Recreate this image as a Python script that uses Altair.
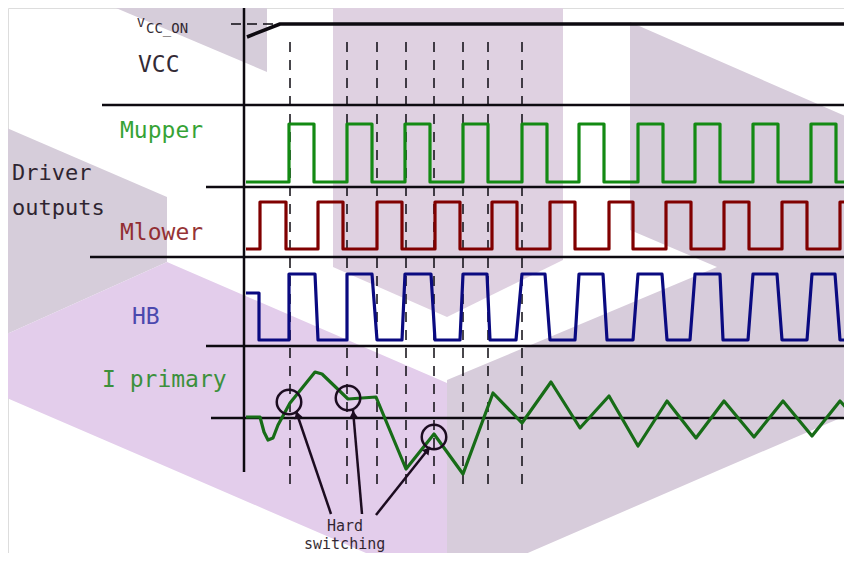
import math
import altair as alt
import pandas as pd

# ---------------- data (picture pixel units) ----------------
# background watermark faces: (x, y_top, y_bottom), colour
bg_faces = {
    "t1": ("#d6cdda", [(97, 0, 0), (267, 0, 72)]),
    "left": ("#d6cdda", [(0, 125, 337), (167, 197, 262)]),
    "purple": ("#e3cdeb", [(0, 337, 395), (167, 262, 467), (447, 383, 588)]),
    "pink": ("#dfd1e1", [(333, 0, 267), (447, 0, 317), (563, 0, 260)]),
    "right_a": ("#d7ccdb", [(630, 22, 230), (717, 60, 267), (852, 119, 325)]),
    "right_b": ("#d7ccdb", [(447, 380, 588), (717, 267, 471), (852, 211, 413)]),
}

sep_y = [105, 187, 257, 346, 418]
sep_x_start = [102, 206, 90, 206, 211]
sep_x_end = 852

dash_x = [290, 347, 377, 406, 434, 463, 488, 522]

vcc_x = [247, 280, 852]
vcc_y = [37, 24, 24]

mupper_low, mupper_high = 182, 124
mupper_pulses = [(289, 314), (347, 372), (405, 430), (463, 488), (522, 547),
                 (579, 604), (638, 663), (695, 720), (753, 778), (811, 836)]

mlower_low, mlower_high = 249, 202
mlower_pulses = [(260, 286), (318, 343), (377, 402), (435, 460), (492, 517),
                 (550, 575), (609, 633), (666, 691), (724, 749), (782, 807), (840, 865)]

hb_low, hb_high = 340, 274
hb_start = [(246, 293), (259, 293), (259, 340)]
hb_pulses = [(289, 289, 315, 318), (347, 347, 372, 377), (402, 405, 431, 435),
             (460, 463, 487, 490), (516, 522, 545, 550), (575, 579, 603, 607),
             (633, 638, 662, 667), (690, 695, 720, 723), (748, 753, 777, 782),
             (807, 812, 835, 840)]

iprim_x = [246, 260, 264, 268, 273, 278, 290, 315, 322, 348, 376, 406, 434, 463,
           493, 522, 551, 580, 609, 638, 667, 696, 724, 754, 783, 812, 840, 852]
iprim_y = [417, 417, 432, 440, 438, 425, 403, 372, 374, 399, 397, 469, 434, 474,
           393, 423, 382, 428, 396, 446, 401, 438, 401, 437, 401, 436, 401, 414]

circ_x = [289, 348, 434]
circ_y = [402, 398, 437]

arrow_from = [(331, 514), (362, 514), (376, 515)]
arrow_to = [(296, 411), (353, 410), (430, 447)]

labels = [
    # text, x, y(baseline), colour, font size
    ("V", 137, 27, "#1c1220", 13),
    ("CC_ON", 146, 33, "#1c1220", 14),
    ("VCC", 138, 72, "#1c1220", 23),
    ("Mupper", 120, 138, "#1f9a1f", 23),
    ("Driver", 12, 180, "#1c1220", 22),
    ("outputs", 12, 215, "#1c1220", 22),
    ("Mlower", 120, 240, "#8b1c22", 23),
    ("HB", 132, 324, "#3b3aa8", 23),
    ("I primary", 102, 387, "#2a8a2a", 23),
    ("Hard", 327, 531, "#1c1220", 15),
    ("switching", 304, 549, "#1c1220", 15),
]

# ---------------- scales: picture pixels through the chart's own scales ----------------
W, H = 836, 545
X0, Y0 = 8, 8
xs = alt.Scale(domain=[X0, X0 + W], nice=False, zero=False)
ys = alt.Scale(domain=[Y0, Y0 + H], reverse=True, nice=False, zero=False)


def X(f="x"):
    return alt.X(f"{f}:Q", scale=xs, axis=None)


def Y(f="y"):
    return alt.Y(f"{f}:Q", scale=ys, axis=None)


# background faces
bg_rows = []
for name, (col, pts) in bg_faces.items():
    for (x, yt, yb) in pts:
        bg_rows.append({"face": name, "col": col, "x": x, "yt": yt, "yb": yb})
bg_df = pd.DataFrame(bg_rows)
bg = alt.Chart(bg_df).mark_area(clip=True, opacity=1, interpolate="linear").encode(
    x=X(), y=Y("yt"), y2="yb:Q",
    color=alt.Color("col:N", scale=None), detail="face:N")

# separators
sep_df = pd.DataFrame({"x": sep_x_start, "x2": [sep_x_end] * len(sep_y), "y": sep_y})
seps = alt.Chart(sep_df).mark_rule(color="#0d0a10", strokeWidth=2.5, clip=True).encode(
    x=X(), x2="x2:Q", y=Y())

# main vertical axis
axis_df = pd.DataFrame({"x": [244], "y": [5], "y2": [472]})
vaxis = alt.Chart(axis_df).mark_rule(color="#0d0a10", strokeWidth=2.5, clip=True).encode(
    x=X(), y=Y(), y2="y2:Q")

# vcc_on dashed marker
vdash_df = pd.DataFrame({"x": [231], "x2": [280], "y": [24]})
vdash = alt.Chart(vdash_df).mark_rule(color="#0d0a10", strokeWidth=1.5,
                                       strokeDash=[10, 6], clip=True).encode(
    x=X(), x2="x2:Q", y=Y())

# vertical dashed time markers
dv_df = pd.DataFrame({"x": dash_x, "y": [42] * len(dash_x), "y2": [484] * len(dash_x)})
dvert = alt.Chart(dv_df).mark_rule(color="#0d0a10", strokeWidth=1.5,
                                    strokeDash=[10, 8], clip=True).encode(
    x=X(), y=Y(), y2="y2:Q")


def line(df, color, width):
    return alt.Chart(df).mark_line(color=color, strokeWidth=width, clip=True,
                                   strokeJoin="round", strokeCap="butt").encode(
        x=X(), y=Y(), order="i:Q")


def pts_df(pts):
    return pd.DataFrame({"i": list(range(len(pts))),
                         "x": [p[0] for p in pts], "y": [p[1] for p in pts]})


vcc = line(pts_df(list(zip(vcc_x, vcc_y))), "#0d0a10", 3.5)

mu = [(246, mupper_low)]
for a, b in mupper_pulses:
    mu += [(a, mupper_low), (a, mupper_high), (b, mupper_high), (b, mupper_low)]
mu.append((852, mupper_low))
mupper = line(pts_df(mu), "#138a13", 3.2)

ml = [(246, mlower_low)]
for a, b in mlower_pulses:
    ml += [(a, mlower_low), (a, mlower_high), (b, mlower_high), (b, mlower_low)]
mlower = line(pts_df(ml), "#800000", 3.2)

hb = list(hb_start)
for a, b, c, d in hb_pulses:
    hb += [(a, hb_low), (b, hb_high), (c, hb_high), (d, hb_low)]
hb.append((852, hb_low))
hbl = line(pts_df(hb), "#0a0a80", 3.2)

ip = line(pts_df(list(zip(iprim_x, iprim_y))), "#176c17", 3.2)

# circles
c_df = pd.DataFrame({"x": circ_x, "y": circ_y})
circles = alt.Chart(c_df).mark_point(shape="circle", size=600, filled=False,
                                     color="#1c0c20", strokeWidth=2.5, opacity=1,
                                     clip=True).encode(x=X(), y=Y())

# arrows
ar_rows, head_rows = [], []
for k, ((x1, y1), (x2, y2)) in enumerate(zip(arrow_from, arrow_to)):
    ar_rows.append({"i": 0, "a": k, "x": x1, "y": y1})
    ar_rows.append({"i": 1, "a": k, "x": x2, "y": y2})
    dx, dy = x2 - x1, y2 - y1
    L = math.hypot(dx, dy)
    ang = math.degrees(math.atan2(dx, -dy)) % 360
    head_rows.append({"x": x2 - 4 * dx / L, "y": y2 - 4 * dy / L, "ang": ang})
ar_df = pd.DataFrame(ar_rows)
arrows = alt.Chart(ar_df).mark_line(color="#1c0c20", strokeWidth=2.5, clip=True).encode(
    x=X(), y=Y(), detail="a:N", order="i:Q")
heads = alt.Chart(pd.DataFrame(head_rows)).mark_point(
    shape="triangle-up", size=70, filled=True, color="#1c0c20", opacity=1, clip=True).encode(
    x=X(), y=Y(), angle=alt.Angle("ang:Q", scale=None))

# labels
lab_df = pd.DataFrame(labels, columns=["text", "x", "y", "col", "fs"])
texts = alt.Chart(lab_df).mark_text(align="left", baseline="alphabetic",
                                    font="DejaVu Sans Mono", opacity=0.9).encode(
    x=X(), y=Y(), text="text:N",
    color=alt.Color("col:N", scale=None),
    size=alt.Size("fs:Q", scale=None))

chart = alt.layer(bg, dvert, seps, vaxis, vdash, vcc, mupper, mlower, hbl, ip,
                  circles, arrows, heads, texts).properties(
    width=W, height=H, padding=0,
    autosize=alt.AutoSizeParams(type="none"),
).configure_view(stroke=None).configure(background="white")

chart.save("out.html", embed_options={"renderer": "svg", "actions": False})
